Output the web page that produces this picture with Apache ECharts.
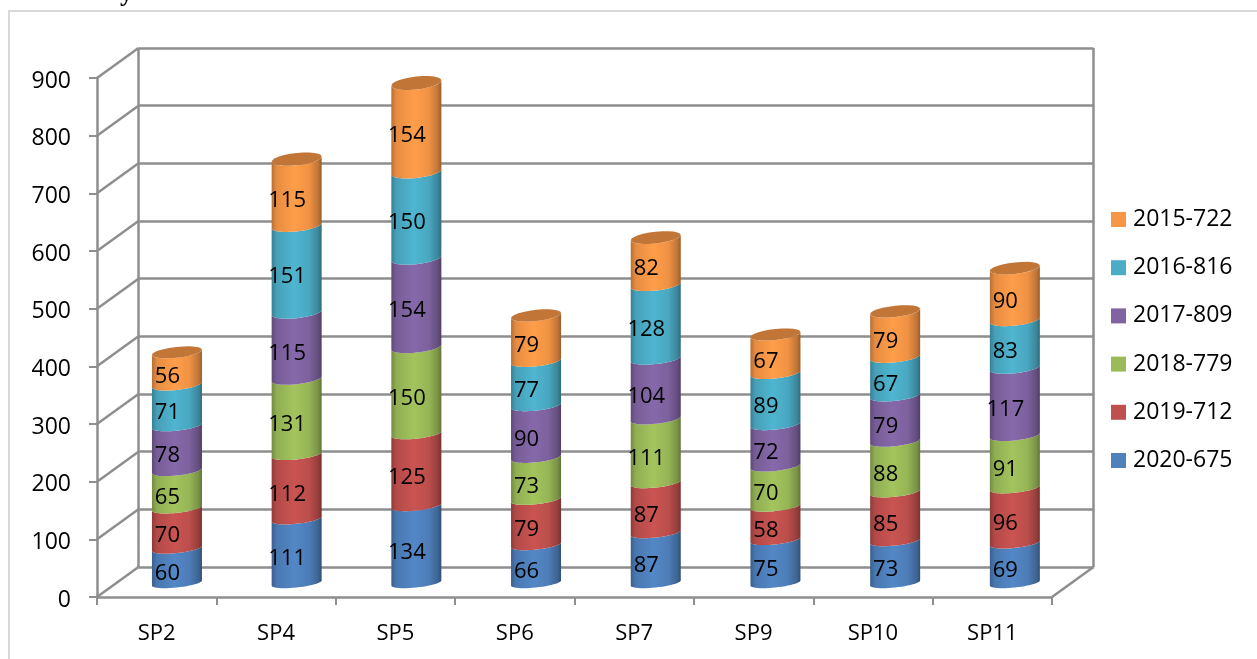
<!DOCTYPE html>
<html><head><meta charset="utf-8">
<style>html,body{margin:0;padding:0;background:#fff}#c{width:1257px;height:659px}</style>
<script src="https://cdn.jsdelivr.net/npm/echarts@6/dist/echarts.min.js"></script>
</head><body><div id="c"></div>
<script>
var categories = ['SP2','SP4','SP5','SP6','SP7','SP9','SP10','SP11'];
var yTicks = [0,100,200,300,400,500,600,700,800,900];
var s2020 = [60,111,134,66,87,75,73,69];
var s2019 = [70,112,125,79,87,58,85,96];
var s2018 = [65,131,150,73,111,70,88,91];
var s2017 = [78,115,154,90,104,72,79,117];
var s2016 = [71,151,150,77,128,89,67,83];
var s2015 = [56,115,154,79,82,67,79,90];
var seriesNames = ['2020-675','2019-712','2018-779','2017-809','2016-816','2015-722'];
var seriesValues = [s2020,s2019,s2018,s2017,s2016,s2015];
var seriesColors = ['#4F81BD','#C0504D','#9BBB59','#8064A2','#4BACC6','#F79646'];

var FONT = '"Open Sans"';
var GRID = '#8E8E8E';
var chart = echarts.init(document.getElementById('c'));

function shade(hex, f){
  var n = parseInt(hex.slice(1),16);
  var c = [(n>>16)&255,(n>>8)&255,n&255].map(function(v){return Math.min(255,Math.round(v*f));});
  return 'rgb('+c.join(',')+')';
}
function grad(hex){
  return new echarts.graphic.LinearGradient(0,0,1,0,[
    {offset:0,color:shade(hex,.74)},{offset:.1,color:shade(hex,.93)},
    {offset:.45,color:shade(hex,1.05)},{offset:.75,color:shade(hex,.97)},
    {offset:.93,color:shade(hex,.78)},{offset:1,color:shade(hex,.62)}]);
}
var HALF_W = 25, TILT = 2.6;
function depthAt(y){ return 4.5 + 2*(583-y)/500; }
function arc(cx, cy, from, to){
  var pts = [], d = depthAt(cy);
  for (var i=0;i<=24;i++){
    var t = from + (to-from)*i/24;
    pts.push([cx+HALF_W*Math.cos(t), cy-TILT*Math.cos(t)+d*Math.sin(t)]);
  }
  return pts;
}
function makeCylinder(sIdx){
  return function(params, api){
    var i = api.value(0), low = api.value(1), val = api.value(2);
    var p0 = api.coord([i, low]), p1 = api.coord([i, low+val]);
    var cx = p0[0];
    var lower = arc(cx,p0[1],Math.PI,0);
    var upper = arc(cx,p1[1],0,Math.PI);
    var color = seriesColors[sIdx];
    var children = [{type:'polygon',shape:{points:lower.concat(upper)},style:{fill:grad(color)}}];
    if (sIdx === seriesColors.length-1){
      children.push({type:'polygon',shape:{points:arc(cx,p1[1],0,2*Math.PI)},style:{fill:shade(color,.78)}});
    }
    children.push({type:'text',z2:50,style:{
      text:String(val),x:cx-9.5,y:(p0[1]+p1[1])/2+8,
      align:'center',verticalAlign:'middle',
      font:'22px '+FONT,fill:'#000'}});
    return {type:'group',children:children};
  };
}
var barSeries = seriesNames.map(function(name,s){
  var data = categories.map(function(c,i){
    var low = 0;
    for (var k=0;k<s;k++) low += seriesValues[k][i];
    return [i,low,seriesValues[s][i]];
  });
  return {name:name,type:'custom',xAxisIndex:2,yAxisIndex:2,data:data,z:5,clip:false,
    encode:{x:0,y:[1,2]},itemStyle:{color:seriesColors[s]},renderItem:makeCylinder(s),silent:true};
});
var diagSeries = {type:'custom',xAxisIndex:0,yAxisIndex:0,z:1,silent:true,clip:false,
  data:yTicks.map(function(v){return [0,v];}),
  encode:{y:1},
  renderItem:function(params,api){
    var v = api.value(1), y = api.coord([0,v])[1], cs = params.coordSys;
    var kids = [{type:'line',shape:{x1:cs.x,y1:y,x2:cs.x+41.5,y2:y-30},style:{stroke:GRID,lineWidth:2.5}}];
    if (v===0) kids.push({type:'line',shape:{x1:cs.x+cs.width,y1:y,x2:cs.x+cs.width+41.5,y2:y-30},style:{stroke:GRID,lineWidth:2.5}});
    return {type:'group',children:kids};
  }};
var option = {
  animation:false,
  backgroundColor:'#fff',
  textStyle:{fontFamily:FONT},
  graphic:[
    {type:'rect',z:-1,shape:{x:9,y:11,width:1300,height:800},style:{fill:'none',stroke:'#D9D9D9',lineWidth:2}},
    {type:'text',left:120,top:-19,style:{text:'y',font:'bold 26px "Liberation Serif"',fill:'#000'}}
  ],
  grid:[
    {left:97,top:78,width:955,height:519},
    {left:138.5,top:48,width:955,height:519},
    {left:117.1,top:64,width:957.6,height:519}
  ],
  legend:{show:true,orient:'vertical',left:1106,top:203,itemWidth:15,itemHeight:15,itemGap:25.2,icon:'rect',
    data:seriesNames.slice().reverse(),
    textStyle:{fontSize:23,fontFamily:FONT,color:'#000',lineHeight:22,padding:[0,0,0,2]}},
  xAxis:[
    {gridIndex:0,type:'category',data:categories,
      axisLine:{show:true,lineStyle:{color:GRID,width:2.5}},
      axisTick:{show:true,length:8,lineStyle:{color:GRID,width:2}},
      axisLabel:{fontSize:22,fontFamily:FONT,color:'#000',margin:26},splitLine:{show:false}},
    {gridIndex:1,type:'value',min:0,max:1,interval:1,
      axisLine:{show:false},axisTick:{show:false},axisLabel:{show:false},
      splitLine:{show:true,lineStyle:{color:GRID,width:2.5}}},
    {gridIndex:2,type:'category',data:categories,show:false}
  ],
  yAxis:[
    {gridIndex:0,type:'value',min:0,max:900,interval:100,
      axisLine:{show:true,lineStyle:{color:GRID,width:2.5}},
      axisTick:{show:true,length:8,lineStyle:{color:GRID,width:2}},
      axisLabel:{fontSize:23,fontFamily:FONT,color:'#000',margin:26,verticalAlign:'top',lineHeight:6},splitLine:{show:false}},
    {gridIndex:1,type:'value',min:0,max:900,interval:100,
      axisLine:{show:false},axisTick:{show:false},axisLabel:{show:false},
      splitLine:{show:true,lineStyle:{color:GRID,width:2.5}}},
    {gridIndex:2,type:'value',min:0,max:900,show:false}
  ],
  series:[diagSeries].concat(barSeries)
};
chart.setOption(option);
</script></body></html>
